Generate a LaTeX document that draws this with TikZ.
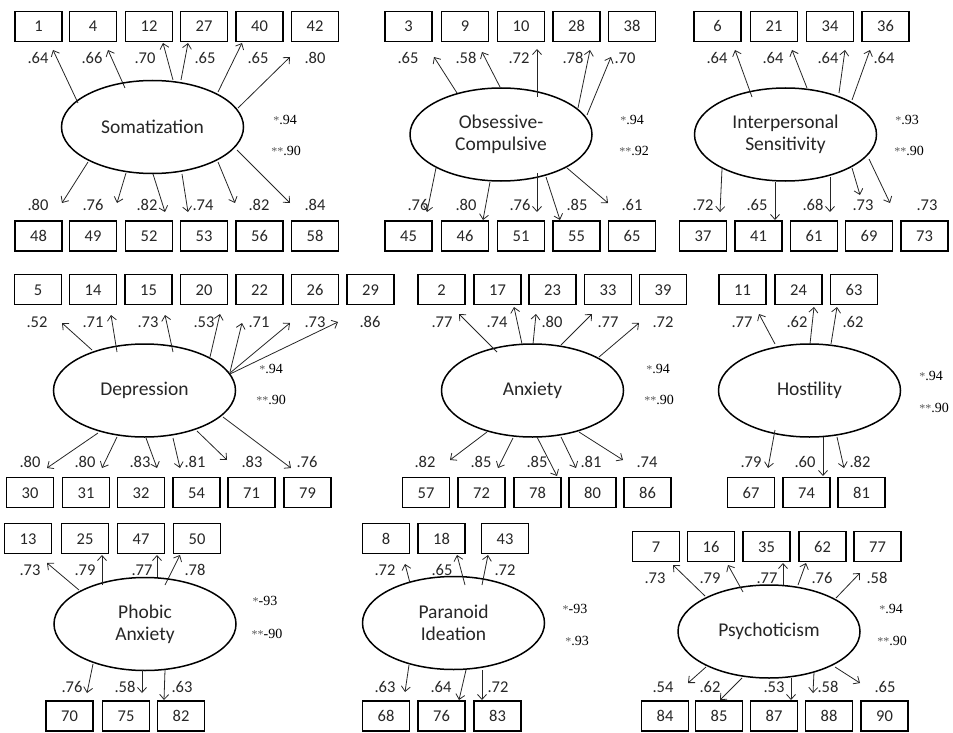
\documentclass[tikz,border=0pt]{standalone}
\usepackage{fontspec}
\setmainfont{Carlito}
\newfontfamily\relfont{Liberation Serif}
\usetikzlibrary{shapes.geometric,arrows.meta}
\definecolor{ink}{gray}{0.15}
\newcommand\st{{\color{black!65}\fontsize{12}{12}\selectfont *}}
\tikzset{
 box/.style={draw=black, line width=1.9pt, minimum width=47pt, minimum height=30pt, inner sep=0pt, text height=11pt, text depth=0pt, text=ink, font=\fontsize{16.5}{16.5}\selectfont},
 lat/.style={draw=black, ellipse, line width=1.5pt, minimum width=182pt, minimum height=93pt, inner sep=0pt, align=center, text=ink, font=\fontsize{19.5}{22}\selectfont},
 ld/.style={inner sep=0pt, text height=11pt, text depth=0pt, text=ink, font=\fontsize{16.5}{16.5}\selectfont},
 rel/.style={inner sep=0pt, text height=10pt, text depth=0pt, text=black, font=\relfont\fontsize{14}{14}\selectfont},
 lk/.style={draw=ink, line width=0.8pt, -{Straight Barb[length=5pt,width=9pt]}},
}
\newcommand\bx[3]{\node[box] (b#1) at (#2,#3) {#1};}
\newcommand\ar[3]{\coordinate (s#1) at (#2); \coordinate (e#1) at (#3); \draw[lk] (s#1) -- (e#1);}
\newcommand\lb[4]{\node[ld] (#1) at (#2,#3) {#4};}
\newcommand\rl[4]{\node[rel] (#1) at (#2,#3) {#4};}
\begin{document}
\begin{tikzpicture}[x=1pt,y=-1pt]
\useasboundingbox (0,0) rectangle (953,733);
% ================= Somatization
\node[lat] (som) at (152.5,127) {Somatization};
\bx{1}{38.5}{26.5}\bx{4}{93}{26.5}\bx{12}{149}{26.5}\bx{27}{204}{26.5}\bx{40}{259.5}{26.5}\bx{42}{315}{26.5}
\bx{48}{38.5}{236}\bx{49}{93}{236}\bx{52}{149}{236}\bx{53}{204}{236}\bx{56}{259.5}{236}\bx{58}{315}{236}
\ar{1}{78,103}{53,50}\ar{4}{125,88}{108,50}\ar{12}{173,80}{163,43}\ar{27}{181,80}{188,43}\ar{40}{218,92}{242,43}\ar{42}{238,108}{290,57}
\ar{48}{88,162}{62,203}\ar{49}{126,173}{117,203}\ar{52}{153,174}{165,212}\ar{53}{182,174}{188,212}\ar{56}{218,162}{235,203}\ar{58}{237,150}{290,203}
\lb{la1}{38}{58}{.64}\lb{la4}{92}{58}{.66}\lb{la12}{145}{58}{.70}\lb{la27}{205}{58}{.65}\lb{la40}{258}{58}{.65}\lb{la42}{315}{58}{.80}
\lb{la48}{38}{205}{.80}\lb{la49}{93}{205}{.76}\lb{la52}{147}{205}{.82}\lb{la53}{203}{205}{.74}\lb{la56}{259}{205}{.82}\lb{la58}{315}{205}{.84}
\rl{r1a}{285}{120}{\st.94}\rl{r1b}{286}{150}{\st\st.90}
% ================= Obsessive-Compulsive
\node[lat] (obs) at (501,134.5) {Obsessive-\\Compulsive};
\bx{3}{408.5}{26.5}\bx{9}{465}{26.5}\bx{10}{521}{26.5}\bx{28}{576.5}{26.5}\bx{38}{632}{26.5}
\bx{45}{408.5}{236}\bx{46}{465}{236}\bx{51}{521}{236}\bx{55}{576.5}{236}\bx{65}{632}{236}
\ar{3}{457,93}{434,57}\ar{9}{500,87}{482,52}\ar{10}{537,97}{537,49}\ar{28}{578,108}{590,50}\ar{38}{587,115}{611,57}
\ar{45}{436,168}{427,212}\ar{46}{490,182}{483,220}\ar{51}{537,173}{537,212}\ar{55}{546,177}{560,220}\ar{65}{567,168}{608,203}
\lb{la3}{408}{58}{.65}\lb{la9}{466}{58}{.58}\lb{la10}{519}{58}{.72}\lb{la28}{573}{58}{.78}\lb{la38}{625}{58}{.70}
\lb{la45}{418}{205}{.76}\lb{la46}{466}{205}{.80}\lb{la51}{520}{205}{.76}\lb{la55}{577}{205}{.85}\lb{la65}{632}{205}{.61}
\rl{r2a}{632}{120}{\st.94}\rl{r2b}{634}{150}{\st\st.92}
% ================= Interpersonal Sensitivity
\node[lat] (int) at (785.5,134.5) {Interpersonal\\Sensitivity};
\bx{6}{717.5}{26.5}\bx{21}{774}{26.5}\bx{34}{830}{26.5}\bx{36}{885.5}{26.5}
\bx{37}{703}{236}\bx{41}{758.5}{236}\bx{61}{814}{236}\bx{69}{869}{236}\bx{73}{924.5}{236}
\ar{6}{752,97}{735,50}\ar{21}{807,88}{792,50}\ar{34}{839,93}{845,50}\ar{36}{852,100}{870,50}
\ar{37}{722,169}{720,212}\ar{41}{775,182}{775,220}\ar{61}{830,177}{830,212}\ar{69}{852,168}{860,195}\ar{73}{869,159}{890,203}
\lb{la6}{717}{58}{.64}\lb{la21}{773}{58}{.64}\lb{la34}{828}{58}{.64}\lb{la36}{884}{58}{.64}
\lb{la37}{703}{205}{.72}\lb{la41}{757}{205}{.65}\lb{la61}{813}{205}{.68}\lb{la69}{863}{205}{.73}\lb{la73}{927}{205}{.73}
\rl{r3a}{907}{120}{\st.93}\rl{r3b}{909}{150}{\st\st.90}
% ================= Depression
\node[lat] (dep) at (144.5,390.5) {Depression};
\bx{5}{38}{289.5}\bx{14}{93}{289.5}\bx{15}{148.5}{289.5}\bx{20}{204}{289.5}\bx{22}{259.5}{289.5}\bx{26}{315}{289.5}\bx{29}{370.5}{289.5}
\bx{30}{30}{492.5}\bx{31}{86}{492.5}\bx{32}{141}{492.5}\bx{54}{196.5}{492.5}\bx{71}{251.5}{492.5}\bx{79}{307.5}{492.5}
\ar{5}{92,350}{62,323}\ar{14}{117,352}{111,315}\ar{15}{173,352}{165,315}\ar{20}{210,357}{220,314}\ar{22}{230,372}{242,323}\ar{26}{230,373}{290,323}\ar{29}{230,374}{338,322}
\ar{30}{98,433}{47,468}\ar{31}{117,437}{102,468}\ar{32}{146,438}{157,468}\ar{54}{173,438}{180,468}\ar{71}{197,431}{227,460}\ar{79}{223,417}{291,468}
\lb{la5}{37}{322}{.52}\lb{la14}{93}{322}{.71}\lb{la15}{148}{322}{.73}\lb{la20}{204}{322}{.53}\lb{la22}{259}{322}{.71}\lb{la26}{315}{322}{.73}\lb{la29}{370}{322}{.86}
\lb{la30}{30}{462}{.80}\lb{la31}{85}{462}{.80}\lb{la32}{140}{462}{.83}\lb{la54}{195}{462}{.81}\lb{la71}{252}{462}{.83}\lb{la79}{307}{462}{.76}
\rl{r4a}{271}{368}{\st.94}\rl{r4b}{271}{399}{\st\st.90}
% ================= Anxiety
\node[lat] (anx) at (532.5,390.5) {Anxiety};
\bx{2}{441.5}{289.5}\bx{17}{497.5}{289.5}\bx{23}{552.5}{289.5}\bx{33}{608}{289.5}\bx{39}{663}{289.5}
\bx{57}{426}{492.5}\bx{72}{481.5}{492.5}\bx{78}{537.5}{492.5}\bx{80}{592.5}{492.5}\bx{86}{647.5}{492.5}
\ar{2}{497,352}{459,314}\ar{17}{522,344}{514,307}\ar{23}{533,344}{536,314}\ar{33}{561,345}{592,314}\ar{39}{599,357}{639,323}
\ar{57}{487,432}{450,460}\ar{72}{513,438}{498,468}\ar{78}{537,437}{557,476}\ar{80}{561,437}{576,468}\ar{86}{579,432}{623,460}
\lb{la2}{442}{322}{.77}\lb{la17}{497}{322}{.74}\lb{la23}{552}{322}{.80}\lb{la33}{608}{322}{.77}\lb{la39}{663}{322}{.72}
\lb{la57}{425}{462}{.82}\lb{la72}{481}{462}{.85}\lb{la78}{537}{462}{.85}\lb{la80}{591}{462}{.81}\lb{la86}{647}{462}{.74}
\rl{r5a}{658}{368}{\st.94}\rl{r5b}{659}{399}{\st\st.90}
% ================= Hostility
\node[lat] (hos) at (809.5,390.5) {Hostility};
\bx{11}{742.5}{289.5}\bx{24}{798.5}{289.5}\bx{63}{854}{289.5}
\bx{67}{751}{492.5}\bx{74}{806.5}{492.5}\bx{81}{861.5}{492.5}
\ar{11}{775,344}{759,314}\ar{24}{810,344}{814,307}\ar{63}{831,344}{837,307}
\ar{67}{775,430}{768,468}\ar{74}{823,437}{823,476}\ar{81}{837,437}{844,468}
\lb{la11}{742}{322}{.77}\lb{la24}{797}{322}{.62}\lb{la63}{853}{322}{.62}
\lb{la67}{751}{462}{.79}\lb{la74}{805}{462}{.60}\lb{la81}{860}{462}{.82}
\rl{r6a}{931}{375}{\st.94}\rl{r6b}{934}{407}{\st\st.90}
% ================= Phobic Anxiety
\node[lat] (pho) at (145,624) {Phobic\\Anxiety};
\bx{13}{28}{538.5}\bx{25}{85}{538.5}\bx{47}{141}{538.5}\bx{50}{197}{538.5}
\bx{70}{69.5}{716}\bx{75}{126}{716}\bx{82}{181}{716}
\ar{13}{79,590}{47,563}\ar{25}{102,585}{102,555}\ar{47}{157,577}{157,555}\ar{50}{165,585}{180,555}
\ar{70}{93,664}{87,693}\ar{75}{142,670}{142,693}\ar{82}{165,670}{164,700}
\lb{la13}{30}{570}{.73}\lb{la25}{85}{570}{.79}\lb{la47}{142}{570}{.77}\lb{la50}{195}{570}{.78}
\lb{la70}{72}{687}{.76}\lb{la75}{125}{687}{.58}\lb{la82}{182}{687}{.63}
\rl{r7a}{265}{600}{\st-93}\rl{r7b}{267}{633}{\st\st-90}
% ================= Paranoid Ideation
\node[lat] (par) at (453.5,623) {Paranoid\\Ideation};
\bx{8}{386}{538.5}\bx{18}{441.5}{538.5}\bx{43}{505}{538.5}
\bx{68}{386}{716}\bx{76}{441.5}{716}\bx{83}{497.5}{716}
\ar{8}{410,583}{405,564}\ar{18}{465,585}{457,555}\ar{43}{482,585}{488,555}
\ar{68}{409,665}{405,692}\ar{76}{466,670}{459,700}\ar{83}{482,670}{482,700}
\lb{la8}{385}{570}{.72}\lb{la18}{442}{570}{.65}\lb{la43}{505}{570}{.72}
\lb{la68}{385}{687}{.63}\lb{la76}{441}{687}{.64}\lb{la83}{498}{687}{.72}
\rl{r8a}{575}{608}{\st-93}\rl{r8b}{577}{640}{\st.93}
% ================= Psychoticism
\node[lat] (psy) at (769,631.5) {Psychoticism};
\bx{7}{656}{546.5}\bx{16}{711}{546.5}\bx{35}{766.5}{546.5}\bx{62}{822.5}{546.5}\bx{77}{877.5}{546.5}
\bx{84}{665}{716}\bx{85}{719}{716}\bx{87}{774}{716}\bx{88}{829}{716}\bx{90}{884.5}{716}
\ar{7}{705,596}{673,565}\ar{16}{743,592}{728,565}\ar{35}{783,585}{783,563}\ar{62}{798,585}{806,563}\ar{77}{836,598}{860,573}
\ar{84}{706,667}{688,683}\ar{85}{742,678}{720,700}\ar{87}{791,678}{791,700}\ar{88}{814,672}{813,693}\ar{90}{835,667}{860,683}
\lb{la7}{655}{578}{.73}\lb{la16}{710}{578}{.79}\lb{la35}{767}{578}{.77}\lb{la62}{822}{578}{.76}\lb{la77}{877}{578}{.58}
\lb{la84}{663}{687}{.54}\lb{la85}{710}{687}{.62}\lb{la87}{774}{687}{.53}\lb{la88}{828}{687}{.58}\lb{la90}{885}{687}{.65}
\rl{r9a}{891}{608}{\st.94}\rl{r9b}{892}{640}{\st\st.90}
\end{tikzpicture}
\end{document}
